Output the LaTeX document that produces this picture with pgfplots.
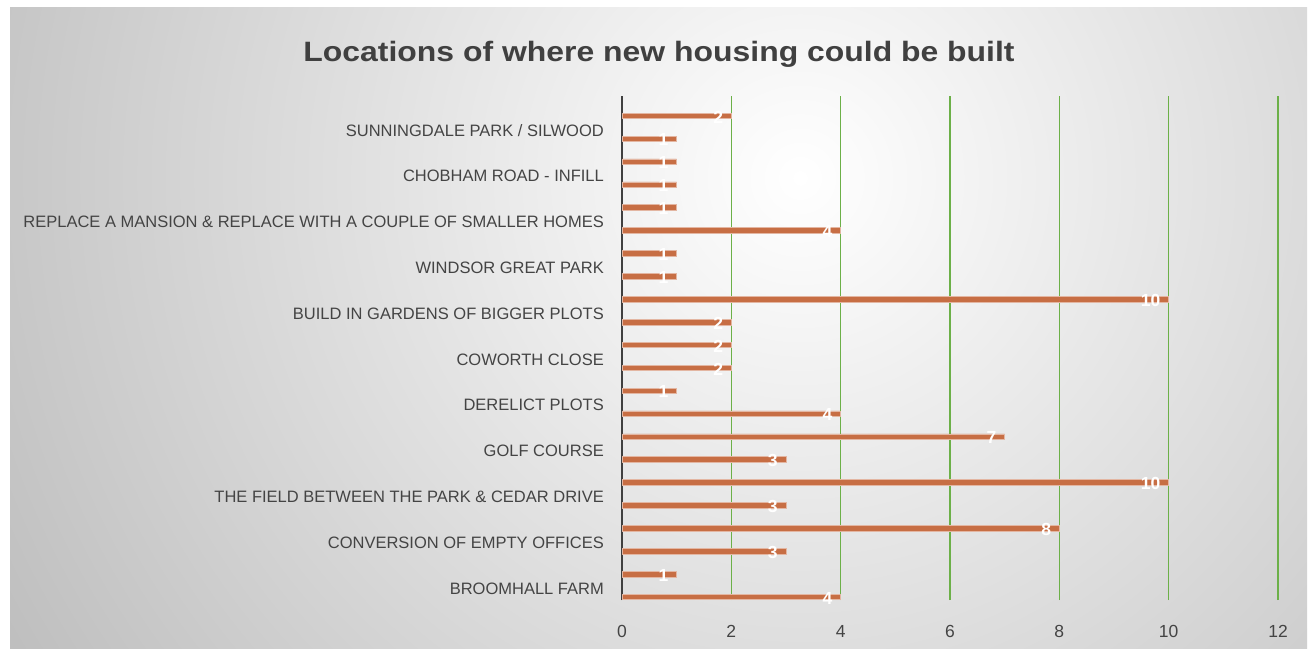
\documentclass[border=0pt]{standalone}
\usepackage{fontspec}
\setmainfont{Liberation Sans}
\usepackage{graphicx}
\usepackage{pgfplots}
\pgfplotsset{compat=1.18}
\definecolor{barc}{RGB}{199,110,68}
\definecolor{gridg}{RGB}{108,176,72}
\definecolor{txt}{RGB}{64,64,64}
\definecolor{lbl}{RGB}{68,68,68}
\begin{document}
\begin{tikzpicture}[x=1pt,y=1pt]
\fill[white] (0,0) rectangle (1309,648);
\begin{scope}
\clip (10,0) rectangle (1307,640);
\shade[inner color=white, outer color=black!33] (800,470) circle (1200);
\end{scope}
\node[text=txt, anchor=base] at (659,586) {\scalebox{1.14}[1]{\fontsize{28}{32}\selectfont\bfseries Locations of where new housing could be built}};
\begin{axis}[
  at={(622pt,48pt)}, anchor=south west, scale only axis,
  width=656pt, height=504pt,
  xbar, bar width=5.5pt, bar shift=0pt,
  xmin=0, xmax=12, ymin=-0.5, ymax=21.5,
  xtick={0,2,...,12}, ytick={0,2,...,20},
  yticklabels={BROOMHALL FARM, CONVERSION OF EMPTY OFFICES, THE FIELD BETWEEN THE PARK \& CEDAR DRIVE, GOLF COURSE, DERELICT PLOTS, COWORTH CLOSE , BUILD IN GARDENS OF BIGGER PLOTS, WINDSOR GREAT PARK, REPLACE A MANSION \& REPLACE WITH A COUPLE OF SMALLER HOMES, CHOBHAM ROAD - INFILL, SUNNINGDALE PARK / SILWOOD},
  major tick length=0pt,
  xmajorgrids, major grid style={gridg, line width=1.4pt},
  axis lines*=left,
  x axis line style={draw=none},
  y axis line style={txt, line width=1.6pt},
  /pgf/number format/assume math mode=true,
  yticklabel style={font=\fontsize{16.5}{18}\selectfont, text=lbl, anchor=east, inner sep=0pt, xshift=-18pt},
  xticklabel style={font=\fontsize{17.5}{18}\selectfont, text=lbl, anchor=north, inner sep=0pt, yshift=-25pt},
  point meta=x,
  nodes near coords,
  every node near coord/.append style={anchor=east, inner sep=0pt, xshift=-8pt, yshift=-1pt, text=white, font=\fontsize{17.5}{17}\selectfont\bfseries},
]
\addplot[fill=barc, draw=barc!50!white, line width=0.7pt] coordinates {
(4,-0.37) (1,0.63) (3,1.63) (8,2.63) (3,3.63) (10,4.63) (3,5.63) (7,6.63)
(4,7.63) (1,8.63) (2,9.63) (2,10.63) (2,11.63) (10,12.63) (1,13.63) (1,14.63)
(4,15.63) (1,16.63) (1,17.63) (1,18.63) (1,19.63) (2,20.63)
};
\end{axis}
\end{tikzpicture}
\end{document}
